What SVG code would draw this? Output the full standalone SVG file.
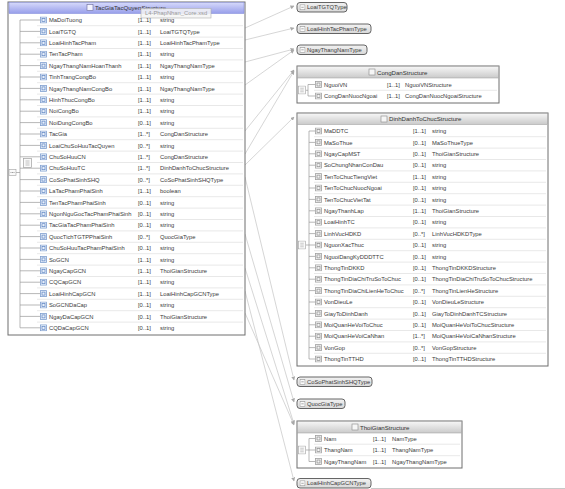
<svg xmlns="http://www.w3.org/2000/svg" width="565" height="489" viewBox="0 0 565 489">
<style>
text{font-family:"Liberation Sans","DejaVu Sans",sans-serif;font-size:5.8px;fill:#3a3a3a}
.hd{font-size:6.1px;fill:#333}
.box{fill:#fff;stroke:#6e6e6e;stroke-width:1}
.sep{stroke:#e2e2e2;stroke-width:0.8}
.tree{stroke:#9a9a9a;stroke-width:0.7;fill:none}
.con{stroke:#c4c4c4;stroke-width:0.7;fill:none}
.st{fill:url(#gs);stroke:#555;stroke-width:0.9}
.tip{fill:#f4f4f4;fill-opacity:0.85;stroke:#b0b0b0;stroke-width:0.6}
.tipt{fill:#9a9a9a;font-size:5.8px}
</style>
<defs>
<linearGradient id="gb" x1="0" y1="0" x2="0" y2="1"><stop offset="0" stop-color="#d6d9fb"/><stop offset="1" stop-color="#979eea"/></linearGradient>
<linearGradient id="gg" x1="0" y1="0" x2="0" y2="1"><stop offset="0" stop-color="#f6f6f6"/><stop offset="1" stop-color="#cacaca"/></linearGradient>
<linearGradient id="gs" x1="0" y1="0" x2="0" y2="1"><stop offset="0" stop-color="#f2f2f2"/><stop offset="1" stop-color="#d8d8d8"/></linearGradient>
<symbol id="eb" viewBox="0 0 7 7"><rect x="0.5" y="0.5" width="6" height="6" fill="#e9f0fb" stroke="#7f9fcf" stroke-width="0.8"/><rect x="2" y="2" width="3" height="3" fill="none" stroke="#5b82c0" stroke-width="0.7"/></symbol>
<symbol id="eg" viewBox="0 0 7 7"><rect x="0.5" y="0.5" width="6" height="6" fill="#f6f6f6" stroke="#a0a0a0" stroke-width="0.8"/><rect x="2" y="2" width="3" height="3" fill="none" stroke="#8a8a8a" stroke-width="0.7"/></symbol>
<symbol id="sq" viewBox="0 0 9 10"><rect x="0.5" y="0.5" width="8" height="9" fill="#fafafa" stroke="#a0a0a0" stroke-width="0.7"/><path d="M2.5 3h4M2.5 5h4M2.5 7h4" stroke="#9a9a9a" stroke-width="0.6"/></symbol>
<symbol id="mi" viewBox="0 0 6 6"><rect x="0.5" y="0.5" width="5" height="5" fill="#fbfbfb" stroke="#8c8c8c" stroke-width="0.6"/><path d="M1.8 3h2.4" stroke="#777" stroke-width="0.6"/></symbol>
<marker id="ar" markerWidth="4" markerHeight="4" refX="3.5" refY="2" orient="auto" markerUnits="userSpaceOnUse"><path d="M0 0L4 2L0 4z" fill="#a8a8a8"/></marker>
</defs>
<rect width="565" height="489" fill="#fff"/>

<g id="connectors">
<line class="con" x1="245" y1="28" x2="294" y2="6" marker-end="url(#ar)"/>
<line class="con" x1="245" y1="40" x2="294" y2="28" marker-end="url(#ar)"/>
<line class="con" x1="245" y1="62" x2="294" y2="49" marker-end="url(#ar)"/>
<line class="con" x1="245" y1="85" x2="294" y2="50" marker-end="url(#ar)"/>
<line class="con" x1="245" y1="131" x2="294" y2="70" marker-end="url(#ar)"/>
<line class="con" x1="245" y1="154" x2="294" y2="71" marker-end="url(#ar)"/>
<line class="con" x1="245" y1="165" x2="294" y2="117" marker-end="url(#ar)"/>
<line class="con" x1="245" y1="177" x2="294" y2="380" marker-end="url(#ar)"/>
<line class="con" x1="245" y1="234" x2="294" y2="402" marker-end="url(#ar)"/>
<line class="con" x1="245" y1="268" x2="294" y2="424" marker-end="url(#ar)"/>
<line class="con" x1="245" y1="291" x2="294" y2="481" marker-end="url(#ar)"/>
<line class="con" x1="245" y1="313" x2="294" y2="425" marker-end="url(#ar)"/>
</g>

<g id="TacGiaTacQuyenStructure">
<rect class="box" x="8" y="2" width="237" height="333"/>
<rect x="9" y="2.5" width="235" height="11" fill="url(#gb)" stroke="#7d85d8" stroke-width="0.5"/>
<rect x="87" y="4.5" width="6" height="6" fill="#f4f4ff" stroke="#6a6a9a" stroke-width="0.6"/>
<text class="hd" x="95" y="10.3">TacGiaTacQuyenStructure</text>
<g class="sep">
<line x1="37" y1="25.7" x2="243" y2="25.7"/><line x1="37" y1="37.1" x2="243" y2="37.1"/><line x1="37" y1="48.5" x2="243" y2="48.5"/><line x1="37" y1="59.9" x2="243" y2="59.9"/><line x1="37" y1="71.3" x2="243" y2="71.3"/><line x1="37" y1="82.7" x2="243" y2="82.7"/><line x1="37" y1="94.1" x2="243" y2="94.1"/><line x1="37" y1="105.5" x2="243" y2="105.5"/><line x1="37" y1="116.9" x2="243" y2="116.9"/><line x1="37" y1="128.3" x2="243" y2="128.3"/><line x1="37" y1="139.7" x2="243" y2="139.7"/><line x1="37" y1="151.1" x2="243" y2="151.1"/><line x1="37" y1="162.5" x2="243" y2="162.5"/><line x1="37" y1="173.9" x2="243" y2="173.9"/><line x1="37" y1="185.3" x2="243" y2="185.3"/><line x1="37" y1="196.7" x2="243" y2="196.7"/><line x1="37" y1="208.1" x2="243" y2="208.1"/><line x1="37" y1="219.5" x2="243" y2="219.5"/><line x1="37" y1="230.9" x2="243" y2="230.9"/><line x1="37" y1="242.3" x2="243" y2="242.3"/><line x1="37" y1="253.7" x2="243" y2="253.7"/><line x1="37" y1="265.1" x2="243" y2="265.1"/><line x1="37" y1="276.5" x2="243" y2="276.5"/><line x1="37" y1="287.9" x2="243" y2="287.9"/><line x1="37" y1="299.3" x2="243" y2="299.3"/><line x1="37" y1="310.7" x2="243" y2="310.7"/><line x1="37" y1="322.1" x2="243" y2="322.1"/>
</g>
<g class="tree">
<line x1="20" y1="20" x2="20" y2="327.8"/>
<path d="M20 20h20M20 31.4h20M20 42.8h20M20 54.2h20M20 65.6h20M20 77h20M20 88.4h20M20 99.8h20M20 111.2h20M20 122.6h20M20 134h20M20 145.4h20M20 156.8h20M20 168.2h20M20 179.6h20M20 191h20M20 202.4h20M20 213.8h20M20 225.2h20M20 236.6h20M20 248h20M20 259.4h20M20 270.8h20M20 282.2h20M20 293.6h20M20 305h20M20 316.4h20M20 327.8h20"/>
<path d="M16 172.5h4"/>
</g>
<use href="#sq" x="23" y="158" width="9" height="10"/>
<rect x="9" y="169.5" width="7" height="6" fill="#fafafa" stroke="#a0a0a0" stroke-width="0.6"/>
<path d="M10.5 172.5h1M12 172.5h1M13.5 172.5h1" stroke="#777" stroke-width="0.7"/>
<g>
<use href="#eb" x="40" y="16.5" width="7" height="7"/><use href="#eb" x="40" y="27.9" width="7" height="7"/><use href="#eb" x="40" y="39.3" width="7" height="7"/><use href="#eb" x="40" y="50.7" width="7" height="7"/><use href="#eb" x="40" y="62.1" width="7" height="7"/><use href="#eb" x="40" y="73.5" width="7" height="7"/><use href="#eb" x="40" y="84.9" width="7" height="7"/><use href="#eb" x="40" y="96.3" width="7" height="7"/><use href="#eb" x="40" y="107.7" width="7" height="7"/><use href="#eb" x="40" y="119.1" width="7" height="7"/><use href="#eb" x="40" y="130.5" width="7" height="7"/><use href="#eb" x="40" y="141.9" width="7" height="7"/><use href="#eb" x="40" y="153.3" width="7" height="7"/><use href="#eb" x="40" y="164.7" width="7" height="7"/><use href="#eb" x="40" y="176.1" width="7" height="7"/><use href="#eb" x="40" y="187.5" width="7" height="7"/><use href="#eb" x="40" y="198.9" width="7" height="7"/><use href="#eb" x="40" y="210.3" width="7" height="7"/><use href="#eb" x="40" y="221.7" width="7" height="7"/><use href="#eb" x="40" y="233.1" width="7" height="7"/><use href="#eb" x="40" y="244.5" width="7" height="7"/><use href="#eb" x="40" y="255.9" width="7" height="7"/><use href="#eb" x="40" y="267.3" width="7" height="7"/><use href="#eb" x="40" y="278.7" width="7" height="7"/><use href="#eb" x="40" y="290.1" width="7" height="7"/><use href="#eb" x="40" y="301.5" width="7" height="7"/><use href="#eb" x="40" y="312.9" width="7" height="7"/><use href="#eb" x="40" y="324.3" width="7" height="7"/>
</g>
<g>
<text x="49" y="22.2">MaDoiTuong</text><text x="138" y="22.2">[1..1]</text><text x="160" y="22.2">string</text>
<text x="49" y="33.6">LoaiTGTQ</text><text x="138" y="33.6">[1..1]</text><text x="160" y="33.6">LoaiTGTQType</text>
<text x="49" y="45">LoaiHinhTacPham</text><text x="138" y="45">[1..1]</text><text x="160" y="45">LoaiHinhTacPhamType</text>
<text x="49" y="56.4">TenTacPham</text><text x="138" y="56.4">[1..1]</text><text x="160" y="56.4">string</text>
<text x="49" y="67.8">NgayThangNamHoanThanh</text><text x="138" y="67.8">[1..1]</text><text x="160" y="67.8">NgayThangNamType</text>
<text x="49" y="79.2">TinhTrangCongBo</text><text x="138" y="79.2">[1..1]</text><text x="160" y="79.2">string</text>
<text x="49" y="90.6">NgayThangNamCongBo</text><text x="138" y="90.6">[1..1]</text><text x="160" y="90.6">NgayThangNamType</text>
<text x="49" y="102">HinhThucCongBo</text><text x="138" y="102">[1..1]</text><text x="160" y="102">string</text>
<text x="49" y="113.4">NoiCongBo</text><text x="138" y="113.4">[1..1]</text><text x="160" y="113.4">string</text>
<text x="49" y="124.8">NoiDungCongBo</text><text x="138" y="124.8">[0..1]</text><text x="160" y="124.8">string</text>
<text x="49" y="136.2">TacGia</text><text x="138" y="136.2">[1..*]</text><text x="160" y="136.2">CongDanStructure</text>
<text x="49" y="147.6">LoaiChuSoHuuTacQuyen</text><text x="138" y="147.6">[0..*]</text><text x="160" y="147.6">string</text>
<text x="49" y="159">ChuSoHuuCN</text><text x="138" y="159">[1..*]</text><text x="160" y="159">CongDanStructure</text>
<text x="49" y="170.4">ChuSoHuuTC</text><text x="138" y="170.4">[1..*]</text><text x="160" y="170.4">DinhDanhToChucStructure</text>
<text x="49" y="181.8">CoSoPhatSinhSHQ</text><text x="138" y="181.8">[0..*]</text><text x="160" y="181.8">CoSoPhatSinhSHQType</text>
<text x="49" y="193.2">LaTacPhamPhaiSinh</text><text x="138" y="193.2">[1..1]</text><text x="160" y="193.2">boolean</text>
<text x="49" y="204.6">TenTacPhamPhaiSinh</text><text x="138" y="204.6">[0..1]</text><text x="160" y="204.6">string</text>
<text x="49" y="216">NgonNguGocTacPhamPhaiSinh</text><text x="138" y="216">[0..1]</text><text x="160" y="216">string</text>
<text x="49" y="227.4">TacGiaTacPhamPhaiSinh</text><text x="138" y="227.4">[0..1]</text><text x="160" y="227.4">string</text>
<text x="49" y="238.8">QuocTichTGTPPhaiSinh</text><text x="138" y="238.8">[0..*]</text><text x="160" y="238.8">QuocGiaType</text>
<text x="49" y="250.2">ChuSoHuuTacPhamPhaiSinh</text><text x="138" y="250.2">[0..1]</text><text x="160" y="250.2">string</text>
<text x="49" y="261.6">SoGCN</text><text x="138" y="261.6">[1..1]</text><text x="160" y="261.6">string</text>
<text x="49" y="273">NgayCapGCN</text><text x="138" y="273">[1..1]</text><text x="160" y="273">ThoiGianStructure</text>
<text x="49" y="284.4">CQCapGCN</text><text x="138" y="284.4">[1..1]</text><text x="160" y="284.4">string</text>
<text x="49" y="295.8">LoaiHinhCapGCN</text><text x="138" y="295.8">[1..1]</text><text x="160" y="295.8">LoaiHinhCapGCNType</text>
<text x="49" y="307.2">SoGCNDaCap</text><text x="138" y="307.2">[0..1]</text><text x="160" y="307.2">string</text>
<text x="49" y="318.6">NgayDaCapGCN</text><text x="138" y="318.6">[0..1]</text><text x="160" y="318.6">ThoiGianStructure</text>
<text x="49" y="330">CQDaCapGCN</text><text x="138" y="330">[0..1]</text><text x="160" y="330">string</text>
</g>
<rect class="tip" x="141" y="8.5" width="70" height="9.5"/>
<text class="tipt" x="145" y="15.3">L4-PhapNhan_Core.xsd</text>
</g>

<g id="LoaiTGTQType">
<rect class="st" x="297" y="2.5" width="50" height="9.5" rx="3"/>
<use href="#mi" x="299.5" y="4.3" width="6" height="6"/>
<text x="307" y="9.4">LoaiTGTQType</text>
</g>
<g id="LoaiHinhTacPhamType">
<rect class="st" x="297" y="24" width="74" height="9.5" rx="3"/>
<use href="#mi" x="299.5" y="25.8" width="6" height="6"/>
<text x="307" y="30.9">LoaiHinhTacPhamType</text>
</g>
<g id="NgayThangNamType">
<rect class="st" x="297" y="45" width="70" height="9.5" rx="3"/>
<use href="#mi" x="299.5" y="46.8" width="6" height="6"/>
<text x="307" y="51.9">NgayThangNamType</text>
</g>

<g id="CongDanStructure">
<rect class="box" x="297" y="66" width="202" height="37"/>
<rect x="297.5" y="66.5" width="201" height="11.5" fill="url(#gg)" stroke="#9a9a9a" stroke-width="0.5"/>
<rect x="369" y="69" width="6" height="6" fill="#f6f6f6" stroke="#888" stroke-width="0.6"/>
<text class="hd" x="377" y="74.5">CongDanStructure</text>
<line class="sep" x1="314" y1="90.3" x2="497" y2="90.3"/>
<path class="tree" d="M308 84.5v11.5M308 84.5h7M308 96h7M306 90.3h2"/>
<use href="#sq" x="298" y="85.5" width="8" height="9"/>
<use href="#eg" x="315" y="81" width="7" height="7"/><use href="#eg" x="315" y="92.5" width="7" height="7"/>
<text x="324" y="86.7">NguoiVN</text><text x="387" y="86.7">[1..1]</text><text x="405" y="86.7">NguoiVNStructure</text>
<text x="324" y="98.2">CongDanNuocNgoai</text><text x="387" y="98.2">[1..1]</text><text x="405" y="98.2">CongDanNuocNgoaiStructure</text>
</g>

<g id="DinhDanhToChucStructure">
<rect class="box" x="297" y="113" width="251" height="253"/>
<rect x="297.5" y="113.5" width="250" height="11" fill="url(#gg)" stroke="#9a9a9a" stroke-width="0.5"/>
<rect x="381" y="116" width="6" height="6" fill="#f6f6f6" stroke="#888" stroke-width="0.6"/>
<text class="hd" x="389" y="121.4">DinhDanhToChucStructure</text>
<g class="sep">
<line x1="314" y1="136.7" x2="546" y2="136.7"/><line x1="314" y1="148.1" x2="546" y2="148.1"/><line x1="314" y1="159.5" x2="546" y2="159.5"/><line x1="314" y1="170.9" x2="546" y2="170.9"/><line x1="314" y1="182.3" x2="546" y2="182.3"/><line x1="314" y1="193.7" x2="546" y2="193.7"/><line x1="314" y1="205.1" x2="546" y2="205.1"/><line x1="314" y1="216.5" x2="546" y2="216.5"/><line x1="314" y1="227.9" x2="546" y2="227.9"/><line x1="314" y1="239.3" x2="546" y2="239.3"/><line x1="314" y1="250.7" x2="546" y2="250.7"/><line x1="314" y1="262.1" x2="546" y2="262.1"/><line x1="314" y1="273.5" x2="546" y2="273.5"/><line x1="314" y1="284.9" x2="546" y2="284.9"/><line x1="314" y1="296.3" x2="546" y2="296.3"/><line x1="314" y1="307.7" x2="546" y2="307.7"/><line x1="314" y1="319.1" x2="546" y2="319.1"/><line x1="314" y1="330.5" x2="546" y2="330.5"/><line x1="314" y1="341.9" x2="546" y2="341.9"/><line x1="314" y1="353.3" x2="546" y2="353.3"/>
</g>
<g class="tree">
<line x1="309" y1="131" x2="309" y2="359"/>
<path d="M309 131h6M309 142.4h6M309 153.8h6M309 165.2h6M309 176.6h6M309 188h6M309 199.4h6M309 210.8h6M309 222.2h6M309 233.6h6M309 245h6M309 256.4h6M309 267.8h6M309 279.2h6M309 290.6h6M309 302h6M309 313.4h6M309 324.8h6M309 336.2h6M309 347.6h6M309 359h6M306 245h3"/>
</g>
<use href="#sq" x="298" y="240.5" width="8" height="9"/>
<g>
<use href="#eg" x="315" y="127.5" width="7" height="7"/><use href="#eg" x="315" y="138.9" width="7" height="7"/><use href="#eg" x="315" y="150.3" width="7" height="7"/><use href="#eg" x="315" y="161.7" width="7" height="7"/><use href="#eg" x="315" y="173.1" width="7" height="7"/><use href="#eg" x="315" y="184.5" width="7" height="7"/><use href="#eg" x="315" y="195.9" width="7" height="7"/><use href="#eg" x="315" y="207.3" width="7" height="7"/><use href="#eg" x="315" y="218.7" width="7" height="7"/><use href="#eg" x="315" y="230.1" width="7" height="7"/><use href="#eg" x="315" y="241.5" width="7" height="7"/><use href="#eg" x="315" y="252.9" width="7" height="7"/><use href="#eg" x="315" y="264.3" width="7" height="7"/><use href="#eg" x="315" y="275.7" width="7" height="7"/><use href="#eg" x="315" y="287.1" width="7" height="7"/><use href="#eg" x="315" y="298.5" width="7" height="7"/><use href="#eg" x="315" y="309.9" width="7" height="7"/><use href="#eg" x="315" y="321.3" width="7" height="7"/><use href="#eg" x="315" y="332.7" width="7" height="7"/><use href="#eg" x="315" y="344.1" width="7" height="7"/><use href="#eg" x="315" y="355.5" width="7" height="7"/>
</g>
<g>
<text x="324" y="133.2">MaDDTC</text><text x="413" y="133.2">[1..1]</text><text x="432" y="133.2">string</text>
<text x="324" y="144.6">MaSoThue</text><text x="413" y="144.6">[0..1]</text><text x="432" y="144.6">MaSoThueType</text>
<text x="324" y="156">NgayCapMST</text><text x="413" y="156">[0..1]</text><text x="432" y="156">ThoiGianStructure</text>
<text x="324" y="167.4">SoChungNhanConDau</text><text x="413" y="167.4">[0..1]</text><text x="432" y="167.4">string</text>
<text x="324" y="178.8">TenToChucTiengViet</text><text x="413" y="178.8">[1..1]</text><text x="432" y="178.8">string</text>
<text x="324" y="190.2">TenToChucNuocNgoai</text><text x="413" y="190.2">[0..1]</text><text x="432" y="190.2">string</text>
<text x="324" y="201.6">TenToChucVietTat</text><text x="413" y="201.6">[0..1]</text><text x="432" y="201.6">string</text>
<text x="324" y="213">NgayThanhLap</text><text x="413" y="213">[1..1]</text><text x="432" y="213">ThoiGianStructure</text>
<text x="324" y="224.4">LoaiHinhTC</text><text x="413" y="224.4">[0..1]</text><text x="432" y="224.4">string</text>
<text x="324" y="235.8">LinhVucHDKD</text><text x="413" y="235.8">[0..*]</text><text x="432" y="235.8">LinhVucHDKDType</text>
<text x="324" y="247.2">NguonXacThuc</text><text x="413" y="247.2">[0..1]</text><text x="432" y="247.2">string</text>
<text x="324" y="258.6">NguoiDangKyDDDTTC</text><text x="413" y="258.6">[0..1]</text><text x="432" y="258.6">string</text>
<text x="324" y="270">ThongTinDKKD</text><text x="413" y="270">[0..1]</text><text x="432" y="270">ThongTinDKKDStructure</text>
<text x="324" y="281.4">ThongTinDiaChiTruSoToChuc</text><text x="413" y="281.4">[0..1]</text><text x="432" y="281.4">ThongTinDiaChiTruSoToChucStructure</text>
<text x="324" y="292.8">ThongTinDiaChiLienHeToChuc</text><text x="413" y="292.8">[0..*]</text><text x="432" y="292.8">ThongTinLienHeStructure</text>
<text x="324" y="304.2">VonDieuLe</text><text x="413" y="304.2">[0..1]</text><text x="432" y="304.2">VonDieuLeStructure</text>
<text x="324" y="315.6">GiayToDinhDanh</text><text x="413" y="315.6">[0..1]</text><text x="432" y="315.6">GiayToDinhDanhTCStructure</text>
<text x="324" y="327">MoiQuanHeVoiToChuc</text><text x="413" y="327">[0..1]</text><text x="432" y="327">MoiQuanHeVoiToChucStructure</text>
<text x="324" y="338.4">MoiQuanHeVoiCaNhan</text><text x="413" y="338.4">[1..*]</text><text x="432" y="338.4">MoiQuanHeVoiCaNhanStructure</text>
<text x="324" y="349.8">VonGop</text><text x="413" y="349.8">[0..*]</text><text x="432" y="349.8">VonGopStructure</text>
<text x="324" y="361.2">ThongTinTTHD</text><text x="413" y="361.2">[0..1]</text><text x="432" y="361.2">ThongTinTTHDStructure</text>
</g>
</g>

<g id="CoSoPhatSinhSHQType">
<rect class="st" x="297" y="377" width="75" height="9.5" rx="3"/>
<use href="#mi" x="299.5" y="378.8" width="6" height="6"/>
<text x="307" y="383.9">CoSoPhatSinhSHQType</text>
</g>
<g id="QuocGiaType">
<rect class="st" x="297" y="399" width="48" height="9.5" rx="3"/>
<use href="#mi" x="299.5" y="400.8" width="6" height="6"/>
<text x="307" y="405.9">QuocGiaType</text>
</g>

<g id="ThoiGianStructure">
<rect class="box" x="297" y="421" width="165" height="47"/>
<rect x="297.5" y="421.5" width="164" height="11.5" fill="url(#gg)" stroke="#9a9a9a" stroke-width="0.5"/>
<rect x="352" y="424" width="6" height="6" fill="#f6f6f6" stroke="#888" stroke-width="0.6"/>
<text class="hd" x="360" y="429.5">ThoiGianStructure</text>
<line class="sep" x1="314" y1="444.2" x2="460" y2="444.2"/><line class="sep" x1="314" y1="455.7" x2="460" y2="455.7"/>
<path class="tree" d="M309 438.5v23M309 438.5h6M309 450h6M309 461.5h6M306 450h3"/>
<use href="#sq" x="298" y="445.5" width="8" height="9"/>
<use href="#eg" x="315" y="435" width="7" height="7"/><use href="#eg" x="315" y="446.5" width="7" height="7"/><use href="#eg" x="315" y="458" width="7" height="7"/>
<text x="324" y="440.7">Nam</text><text x="373" y="440.7">[1..1]</text><text x="392" y="440.7">NamType</text>
<text x="324" y="452.2">ThangNam</text><text x="373" y="452.2">[1..1]</text><text x="392" y="452.2">ThangNamType</text>
<text x="324" y="463.7">NgayThangNam</text><text x="373" y="463.7">[1..1]</text><text x="392" y="463.7">NgayThangNamType</text>
</g>

<g id="LoaiHinhCapGCNType">
<rect class="st" x="297" y="478.5" width="74" height="9.5" rx="3"/>
<use href="#mi" x="299.5" y="480.3" width="6" height="6"/>
<text x="307" y="485.4">LoaiHinhCapGCNType</text>
</g>
<line x1="371" y1="488.5" x2="565" y2="488.5" stroke="#c8c8c8" stroke-width="1"/>
</svg>
